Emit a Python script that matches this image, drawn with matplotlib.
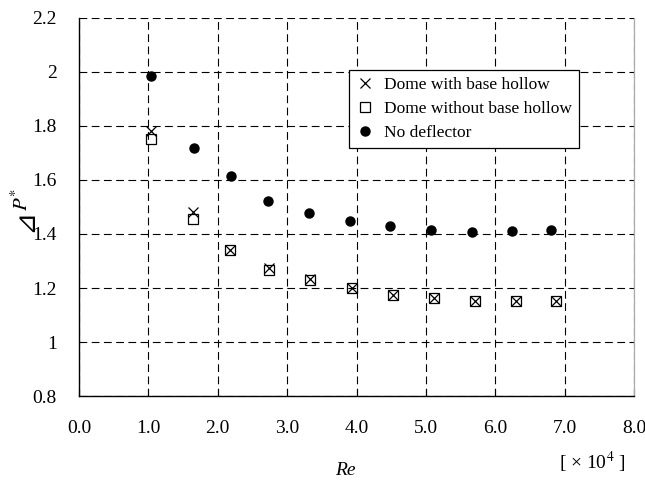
import matplotlib
matplotlib.use("Agg")

import matplotlib.pyplot as plt

plt.rcParams['font.family'] = ['Liberation Serif', 'DejaVu Serif', 'DejaVu Sans']
plt.rcParams['mathtext.fontset'] = 'stix'

# Data (Re in units of 1e4)
re_dome = [1.04, 1.64, 2.17, 2.74, 3.33, 3.93, 4.52, 5.12, 5.71, 6.30, 6.87]
dp_with_hollow = [1.78, 1.48, 1.34, 1.275, 1.235, 1.20, 1.174, 1.163, 1.152, 1.152, 1.152]
dp_without_hollow = [1.75, 1.455, 1.34, 1.265, 1.23, 1.20, 1.174, 1.163, 1.152, 1.152, 1.152]

re_none = [1.04, 1.66, 2.19, 2.72, 3.31, 3.91, 4.48, 5.07, 5.66, 6.24, 6.80]
dp_none = [1.985, 1.72, 1.615, 1.522, 1.478, 1.448, 1.43, 1.415, 1.408, 1.41, 1.415]

xticks = [0, 1, 2, 3, 4, 5, 6, 7, 8]
yticks = [0.8, 1.0, 1.2, 1.4, 1.6, 1.8, 2.0, 2.2]
ytick_labels = ['0.8', '1', '1.2', '1.4', '1.6', '1.8', '2', '2.2']

fig = plt.figure(figsize=(6.45, 4.83), dpi=100)
ax = fig.add_axes([0.1225, 0.180, 0.8605, 0.783])

ax.plot(re_dome, dp_with_hollow, linestyle='none', marker='x', color='black',
        markersize=7.5, markeredgewidth=0.9, label='Dome with base hollow')
ax.plot(re_dome, dp_without_hollow, linestyle='none', marker='s', color='black',
        markerfacecolor='none', markersize=6.5, markeredgewidth=0.9,
        label='Dome without base hollow')
ax.plot(re_none, dp_none, linestyle='none', marker='o', color='black',
        markersize=6.5, label='No deflector')

ax.set_xlim(0, 8)
ax.set_ylim(0.8, 2.2)
ax.set_xticks(xticks)
ax.set_xticklabels([f'{v:.1f}' for v in xticks])
ax.set_yticks(yticks)
ax.set_yticklabels(ytick_labels)

ax.grid(True, linestyle=(0, (7, 4)), color='black', linewidth=0.8)
ax.set_axisbelow(True)

ax.tick_params(axis='x', direction='in', length=5, pad=17, labelsize=14)
ax.tick_params(axis='y', length=0, pad=16, labelsize=14)

ax.spines['top'].set_visible(False)
ax.spines['right'].set_color('#aaaaaa')
ax.spines['right'].set_linewidth(0.9)
ax.spines['left'].set_linewidth(1.0)
ax.spines['bottom'].set_linewidth(1.0)

# y label: right-triangle delta followed by italic P*
fig.text(0.038, 0.544, '⊿', family=['DejaVu Sans'], fontsize=20,
         rotation=90, ha='center', va='center')
fig.text(0.034, 0.588, '$P^{*}$', fontsize=15, rotation=90,
         ha='center', va='center')

fig.text(0.535, 0.025, 'Re', style='italic', fontsize=14, ha='center', va='center')
fig.text(0.918, 0.043, '[ × 10$^4$ ]', fontsize=14, ha='center', va='center')

leg = ax.legend(loc='upper left', bbox_to_anchor=(0.487, 0.862), fontsize=12.5,
                frameon=True, fancybox=False, edgecolor='black', framealpha=1,
                handlelength=1.0, handletextpad=0.6, borderpad=0.4,
                labelspacing=0.45, borderaxespad=0)
leg.get_frame().set_linewidth(0.9)

fig.savefig('out.png', dpi=100)
